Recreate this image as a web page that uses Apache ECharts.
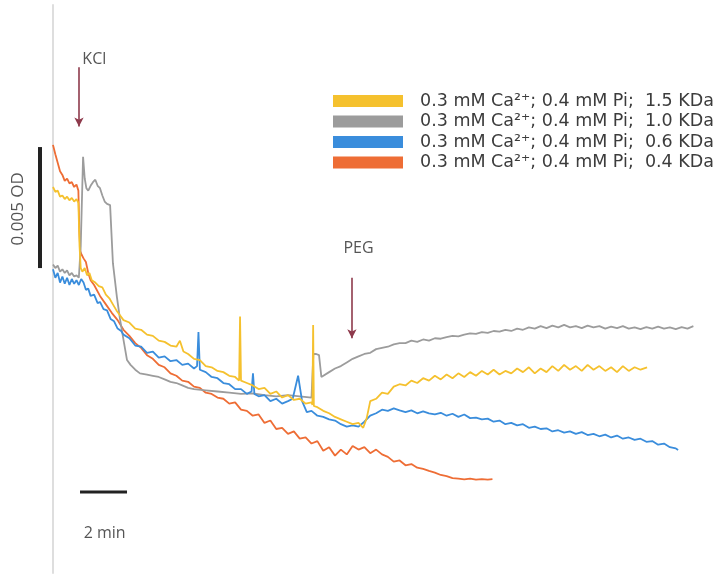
<!DOCTYPE html>
<html><head><meta charset="utf-8">
<script src="https://cdn.jsdelivr.net/npm/echarts/dist/echarts.min.js"></script>
<style>html,body{margin:0;padding:0;background:#fff}#c{width:720px;height:577px}</style>
</head><body><div id="c"></div>
<script>
// time in minutes (0 = start of trace), absorbance change in mOD
const seriesNames = [
  '0.3 mM Ca\u00B2\u207A; 0.4 mM Pi;  1.5 KDa',
  '0.3 mM Ca\u00B2\u207A; 0.4 mM Pi;  1.0 KDa',
  '0.3 mM Ca\u00B2\u207A; 0.4 mM Pi;  0.6 KDa',
  '0.3 mM Ca\u00B2\u207A; 0.4 mM Pi;  0.4 KDa'
];
const seriesColors = ['#F5C12E', '#9c9c9c', '#3a8ddc', '#EE6D35'];

const yellow15 = [[0,15.95],[0.1,15.75],[0.2,15.8],[0.3,15.55],[0.4,15.6],[0.5,15.45],[0.6,15.55],[0.7,15.4],[0.8,15.5],[0.9,15.35],[1.0,15.45],[1.08,15.3],[1.13,13.5],[1.18,12.6],[1.25,12.45],[1.35,12.6],[1.45,12.3],[1.55,12.4],[1.65,12.1],[1.8,12.0],[1.95,11.85],[2.1,11.8],[2.25,11.5],[2.4,11.35],[2.55,11.1],[2.7,10.85],[2.85,10.65],[3.0,10.45],[3.25,10.35],[3.5,10.1],[3.75,10.05],[4.0,9.85],[4.25,9.8],[4.5,9.6],[4.75,9.55],[5.0,9.4],[5.25,9.35],[5.4,9.6],[5.55,9.15],[5.75,9.05],[6.0,8.85],[6.25,8.8],[6.5,8.55],[6.75,8.5],[7.0,8.35],[7.25,8.3],[7.5,8.15],[7.75,8.1],[7.92,7.95],[7.96,10.6],[8.0,7.95],[8.25,7.85],[8.5,7.75],[8.75,7.6],[9.0,7.65],[9.25,7.4],[9.5,7.5],[9.75,7.25],[10.0,7.35],[10.25,7.15],[10.5,7.2],[10.75,7.0],[11.0,7.05],[11.04,6.95],[11.07,10.25],[11.1,6.9],[11.25,6.85],[11.5,6.7],[11.75,6.6],[12.0,6.45],[12.25,6.35],[12.5,6.25],[12.75,6.15],[13.0,6.2],[13.2,6.0],[13.35,6.4],[13.5,7.1],[13.75,7.2],[14.0,7.45],[14.25,7.4],[14.5,7.7],[14.75,7.8],[15.0,7.75],[15.25,7.95],[15.5,7.85],[15.75,8.05],[16.0,7.95],[16.25,8.15],[16.5,8.0],[16.75,8.2],[17.0,8.05],[17.25,8.25],[17.5,8.1],[17.75,8.3],[18.0,8.15],[18.25,8.35],[18.5,8.2],[18.75,8.4],[19.0,8.2],[19.25,8.35],[19.5,8.25],[19.75,8.45],[20.0,8.3],[20.25,8.5],[20.5,8.25],[20.75,8.45],[21.0,8.3],[21.25,8.55],[21.5,8.35],[21.75,8.6],[22.0,8.4],[22.25,8.55],[22.5,8.35],[22.75,8.6],[23.0,8.4],[23.25,8.55],[23.5,8.35],[23.75,8.5],[24.0,8.3],[24.25,8.55],[24.5,8.35],[24.75,8.5],[25.0,8.4],[25.28,8.5]];

const grey10 = [[0,12.75],[0.1,12.6],[0.2,12.7],[0.3,12.45],[0.4,12.55],[0.5,12.4],[0.6,12.5],[0.7,12.3],[0.8,12.4],[0.9,12.25],[1.0,12.3],[1.1,12.2],[1.18,13.5],[1.28,17.2],[1.35,16.3],[1.42,15.9],[1.5,15.8],[1.6,16.0],[1.7,16.15],[1.8,16.25],[1.9,16.0],[2.0,15.9],[2.1,15.6],[2.2,15.35],[2.3,15.25],[2.43,15.2],[2.55,12.8],[2.72,11.4],[2.85,10.5],[2.98,9.75],[3.15,8.8],[3.3,8.6],[3.5,8.4],[3.7,8.25],[4.0,8.2],[4.25,8.15],[4.5,8.1],[4.75,8.0],[5.0,7.9],[5.25,7.85],[5.5,7.75],[5.75,7.65],[6.0,7.6],[6.5,7.55],[7.0,7.5],[7.5,7.45],[8.0,7.4],[8.5,7.42],[9.0,7.35],[9.5,7.3],[10.0,7.35],[10.5,7.3],[11.0,7.25],[11.08,9.05],[11.2,9.05],[11.32,9.0],[11.42,8.1],[11.5,8.05],[11.75,8.3],[12.0,8.45],[12.25,8.55],[12.5,8.7],[12.75,8.85],[13.0,8.95],[13.25,9.05],[13.5,9.1],[13.75,9.25],[14.0,9.3],[14.25,9.35],[14.5,9.45],[14.75,9.5],[15.0,9.5],[15.25,9.6],[15.5,9.55],[15.75,9.65],[16.0,9.6],[16.25,9.7],[16.5,9.68],[16.75,9.75],[17.0,9.8],[17.25,9.78],[17.5,9.85],[17.75,9.9],[18.0,9.88],[18.25,9.95],[18.5,9.92],[18.75,10.0],[19.0,9.97],[19.25,10.05],[19.5,10.0],[19.75,10.1],[20.0,10.05],[20.25,10.15],[20.5,10.1],[20.75,10.2],[21.0,10.12],[21.25,10.22],[21.5,10.15],[21.75,10.25],[22.0,10.15],[22.25,10.2],[22.5,10.12],[22.75,10.22],[23.0,10.15],[23.25,10.2],[23.5,10.1],[23.75,10.18],[24.0,10.12],[24.25,10.2],[24.5,10.1],[24.75,10.15],[25.0,10.08],[25.25,10.16],[25.5,10.1],[25.75,10.18],[26.0,10.1],[26.25,10.15],[26.5,10.08],[26.75,10.16],[27.0,10.1],[27.25,10.2]];

const blue06 = [[0,12.55],[0.1,12.2],[0.2,12.4],[0.3,12.0],[0.4,12.25],[0.5,11.95],[0.6,12.2],[0.7,11.9],[0.8,12.15],[0.9,11.95],[1.0,12.1],[1.1,11.9],[1.2,12.15],[1.3,12.0],[1.4,11.7],[1.5,11.75],[1.6,11.45],[1.75,11.5],[1.9,11.15],[2.0,11.2],[2.15,10.9],[2.3,10.85],[2.45,10.5],[2.6,10.4],[2.75,10.1],[2.9,10.0],[3.0,9.85],[3.25,9.7],[3.5,9.4],[3.75,9.35],[4.0,9.1],[4.25,9.15],[4.5,8.9],[4.75,8.95],[5.0,8.75],[5.25,8.8],[5.5,8.6],[5.75,8.65],[6.0,8.45],[6.13,8.55],[6.19,9.96],[6.25,8.4],[6.5,8.3],[6.75,8.1],[7.0,8.05],[7.25,7.85],[7.5,7.8],[7.75,7.6],[8.0,7.6],[8.25,7.4],[8.45,7.5],[8.51,8.25],[8.57,7.4],[8.75,7.3],[9.0,7.35],[9.25,7.1],[9.5,7.2],[9.75,7.0],[10.0,7.1],[10.2,7.2],[10.43,8.15],[10.6,7.1],[10.8,6.65],[11.0,6.7],[11.25,6.5],[11.5,6.45],[11.75,6.35],[12.0,6.3],[12.25,6.15],[12.5,6.05],[12.75,6.1],[13.0,6.05],[13.25,6.25],[13.5,6.5],[13.75,6.6],[14.0,6.75],[14.25,6.7],[14.5,6.8],[14.75,6.72],[15.0,6.65],[15.25,6.72],[15.5,6.6],[15.75,6.68],[16.0,6.6],[16.25,6.55],[16.5,6.62],[16.75,6.5],[17.0,6.58],[17.25,6.45],[17.5,6.55],[17.75,6.4],[18.0,6.42],[18.25,6.35],[18.5,6.38],[18.75,6.25],[19.0,6.3],[19.25,6.15],[19.5,6.2],[19.75,6.1],[20.0,6.15],[20.25,6.0],[20.5,6.05],[20.75,5.95],[21.0,5.98],[21.25,5.85],[21.5,5.9],[21.75,5.8],[22.0,5.85],[22.25,5.75],[22.5,5.82],[22.75,5.7],[23.0,5.75],[23.25,5.65],[23.5,5.72],[23.75,5.6],[24.0,5.68],[24.25,5.55],[24.5,5.6],[24.75,5.5],[25.0,5.55],[25.25,5.42],[25.5,5.45],[25.75,5.3],[26.0,5.35],[26.25,5.2],[26.5,5.15],[26.6,5.08]];

const orange04 = [[0,17.69],[0.1,17.3],[0.2,16.95],[0.3,16.6],[0.4,16.45],[0.5,16.2],[0.6,16.3],[0.7,16.1],[0.8,16.15],[0.9,15.95],[1.0,16.05],[1.08,15.8],[1.12,14.2],[1.16,13.3],[1.22,13.15],[1.3,13.0],[1.4,12.85],[1.5,12.4],[1.6,12.1],[1.75,11.9],[2.0,11.45],[2.25,11.1],[2.5,10.75],[2.75,10.45],[3.0,10.05],[3.25,9.8],[3.5,9.5],[3.75,9.3],[4.0,9.0],[4.25,8.85],[4.5,8.6],[4.75,8.5],[5.0,8.25],[5.25,8.15],[5.5,7.95],[5.75,7.9],[6.0,7.7],[6.25,7.65],[6.5,7.45],[6.75,7.4],[7.0,7.25],[7.25,7.2],[7.5,7.0],[7.75,7.05],[8.0,6.75],[8.25,6.7],[8.5,6.5],[8.75,6.55],[9.0,6.2],[9.25,6.3],[9.5,5.95],[9.75,6.0],[10.0,5.75],[10.25,5.85],[10.5,5.55],[10.75,5.6],[11.0,5.35],[11.25,5.45],[11.5,5.05],[11.75,5.2],[12.0,4.85],[12.25,5.1],[12.5,4.9],[12.75,5.25],[13.0,5.1],[13.25,5.2],[13.5,4.95],[13.75,5.1],[14.0,4.9],[14.25,4.8],[14.5,4.6],[14.75,4.65],[15.0,4.45],[15.25,4.5],[15.5,4.35],[15.75,4.3],[16.0,4.22],[16.25,4.15],[16.5,4.05],[16.75,4.0],[17.0,3.92],[17.25,3.9],[17.5,3.87],[17.75,3.9],[18.0,3.86],[18.25,3.88],[18.5,3.86],[18.7,3.88]];

// scale bars: 0.005 OD (5 mOD) and 2 min
const odBar = [[-0.553, 12.6], [-0.553, 17.6]];
const timeBar = [[1.15, 3.35], [3.15, 3.35]];
// annotations
const kclArrow = [[1.106, 20.9], [1.106, 18.45]];
const pegArrow = [[12.72, 12.2], [12.72, 9.7]];
const textLabels = [
  {text: 'KCl', pos: [1.25, 21.2], rotate: 0, align: 'left', size: 16},
  {text: 'PEG', pos: [13.0, 13.4], rotate: 0, align: 'center', size: 16},
  {text: '2 min', pos: [2.2, 1.62], rotate: 0, align: 'center', size: 16},
  {text: '0.005 OD', pos: [-1.47, 15.05], rotate: 90, align: 'center', size: 17}
];

const chart = echarts.init(document.getElementById('c'));
const dataSets = [yellow15, grey10, blue06, orange04];
const drawOrder = [3, 1, 2, 0];
const series = [];
drawOrder.forEach(i => {
  series.push({
    name: seriesNames[i], type: 'line', data: dataSets[i], showSymbol: false,
    symbol: 'none', silent: true, z: 2 + series.length,
    lineStyle: {color: seriesColors[i], width: 1.8}, itemStyle: {color: seriesColors[i]}
  });
});
series.push({type: 'line', data: odBar, symbol: 'none', silent: true, lineStyle: {color: '#222', width: 4}});
series.push({type: 'line', data: timeBar, symbol: 'none', silent: true, lineStyle: {color: '#222', width: 3}});
series.push({
  type: 'line', data: [], silent: true,
  markLine: {
    silent: true, symbol: ['none', 'arrow'], symbolSize: [7, 9], animation: false,
    lineStyle: {color: '#8e3a4c', width: 1.6, type: 'solid'}, label: {show: false},
    data: [
      [{coord: kclArrow[0]}, {coord: kclArrow[1]}],
      [{coord: pegArrow[0]}, {coord: pegArrow[1]}]
    ]
  }
});
textLabels.forEach(l => {
  series.push({
    type: 'scatter', silent: true, symbolSize: 1, itemStyle: {color: 'rgba(0,0,0,0)'},
    data: [l.pos],
    label: {show: true, position: 'inside', formatter: l.text, rotate: l.rotate, align: l.align,
      fontFamily: 'Open Sans', fontSize: l.size, color: '#2a2a2a'}
  });
});

chart.setOption({
  animation: false,
  backgroundColor: '#fff',
  grid: {left: 0, right: 0, top: 5, bottom: 4},
  xAxis: {type: 'value', min: -2.255, max: 28.383, show: false},
  yAxis: {type: 'value', min: 0, max: 23.47,
    axisLine: {show: true, onZero: true, lineStyle: {color: '#dedede', width: 2}},
    axisTick: {show: false}, axisLabel: {show: false}, splitLine: {show: false}},
  legend: {
    data: seriesNames, orient: 'vertical', left: 328, top: 87,
    itemWidth: 70, itemHeight: 12, itemGap: 2.5, icon: 'rect',
    textStyle: {fontSize: 17.5, color: '#3c3c3c', fontFamily: 'DejaVu Sans', padding: [0, 0, 0, 12]}
  },
  series: series
});
</script></body></html>
